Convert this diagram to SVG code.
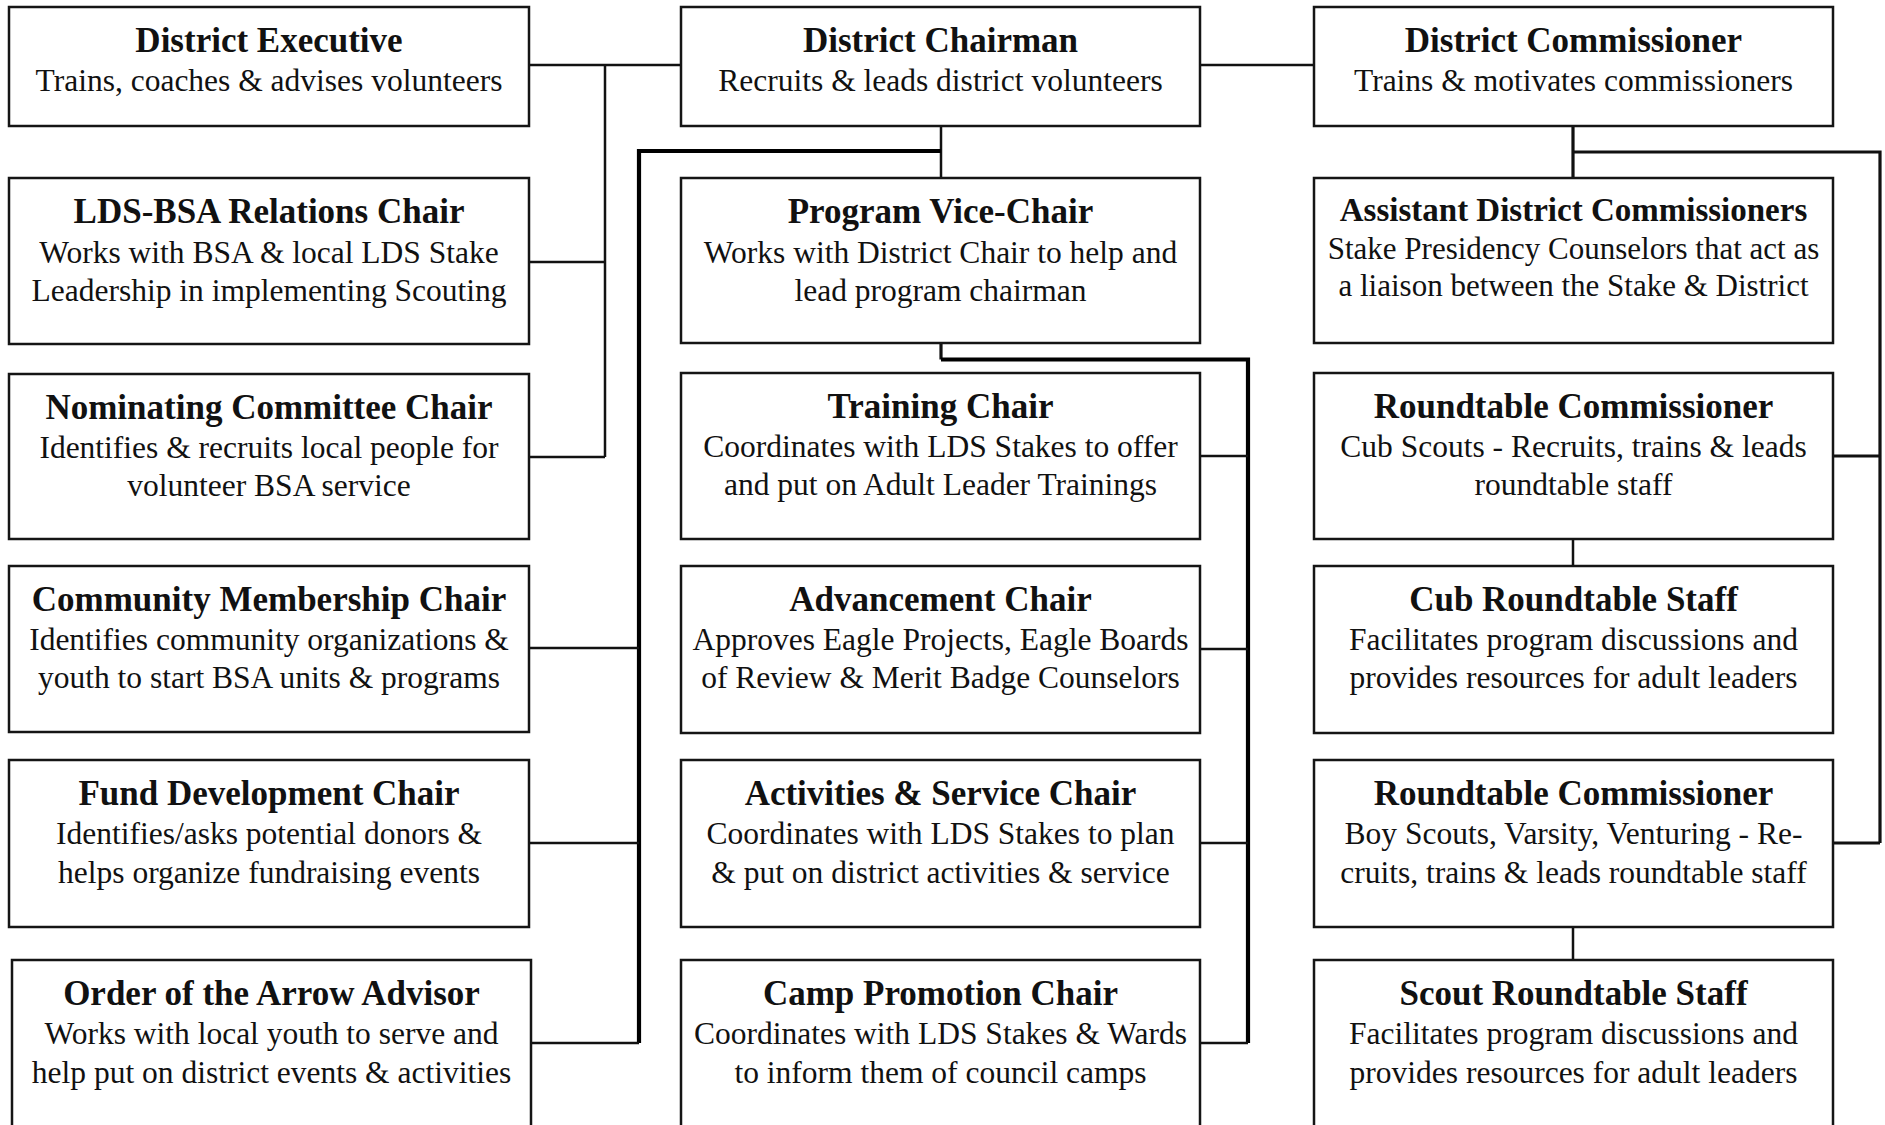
<svg xmlns="http://www.w3.org/2000/svg" width="1885" height="1125" viewBox="0 0 1885 1125">
<style>
.box{fill:#fff;stroke:#151515;stroke-width:2.5}
.t{font-family:"Liberation Serif",serif;font-weight:bold;font-size:35px;text-anchor:middle;fill:#111}
.s{font-family:"Liberation Serif",serif;font-size:31.5px;text-anchor:middle;fill:#111}
.thin{fill:none;stroke:#111;stroke-width:2.5}
.mid{fill:none;stroke:#111;stroke-width:3.2}
.thick{fill:none;stroke:#000;stroke-width:4.2}
</style>
<rect width="1885" height="1125" fill="#fff"/>
<g id="connectors">
<path class="thin" d="M529 65H681M605 65V457M529 262H605M529 457H605M1200 65H1314M941 126V178"/>
<path class="thick" d="M941 151H639V1043"/>
<path class="thin" d="M529 648H639M529 843H639M531 1043H639"/>
<path class="mid" d="M941 343V359.5"/>
<path class="thick" d="M941 359.5H1248V1043"/>
<path class="thin" d="M1200 456H1248M1200 649H1248M1200 843H1248M1200 1043H1248"/>
<path class="mid" d="M1573 126V178M1573 152H1880V843M1833 456H1880M1833 843H1880"/>
<path class="thin" d="M1573 539V566M1573 927V960"/>
</g>
<g id="district-executive"><rect class="box" x="9" y="7" width="520" height="119"/><text class="t" x="269" y="52">District Executive</text><text class="s" x="269" y="91">Trains, coaches &amp; advises volunteers</text></g>
<g id="lds-bsa-relations-chair"><rect class="box" x="9" y="178" width="520" height="166"/><text class="t" x="269" y="223">LDS-BSA Relations Chair</text><text class="s" x="269" y="263">Works with BSA &amp; local LDS Stake</text><text class="s" x="269" y="301">Leadership in implementing Scouting</text></g>
<g id="nominating-committee-chair"><rect class="box" x="9" y="374" width="520" height="165"/><text class="t" x="269" y="419">Nominating Committee Chair</text><text class="s" x="269" y="458">Identifies &amp; recruits local people for</text><text class="s" x="269" y="496">volunteer BSA service</text></g>
<g id="community-membership-chair"><rect class="box" x="9" y="566" width="520" height="166"/><text class="t" x="269" y="611">Community Membership Chair</text><text class="s" x="269" y="650">Identifies community organizations &amp;</text><text class="s" x="269" y="688">youth to start BSA units &amp; programs</text></g>
<g id="fund-development-chair"><rect class="box" x="9" y="760" width="520" height="167"/><text class="t" x="269" y="805">Fund Development Chair</text><text class="s" x="269" y="844">Identifies/asks potential donors &amp;</text><text class="s" x="269" y="883">helps organize fundraising events</text></g>
<g id="order-of-the-arrow-advisor"><rect class="box" x="12" y="960" width="519" height="175"/><text class="t" x="271.5" y="1005">Order of the Arrow Advisor</text><text class="s" x="271.5" y="1044">Works with local youth to serve and</text><text class="s" x="271.5" y="1083">help put on district events &amp; activities</text></g>
<g id="district-chairman"><rect class="box" x="681" y="7" width="519" height="119"/><text class="t" x="940.5" y="52">District Chairman</text><text class="s" x="940.5" y="91">Recruits &amp; leads district volunteers</text></g>
<g id="program-vice-chair"><rect class="box" x="681" y="178" width="519" height="165"/><text class="t" x="940.5" y="223">Program Vice-Chair</text><text class="s" x="940.5" y="263">Works with District Chair to help and</text><text class="s" x="940.5" y="301">lead program chairman</text></g>
<g id="training-chair"><rect class="box" x="681" y="373" width="519" height="166"/><text class="t" x="940.5" y="418">Training Chair</text><text class="s" x="940.5" y="457">Coordinates with LDS Stakes to offer</text><text class="s" x="940.5" y="495">and put on Adult Leader Trainings</text></g>
<g id="advancement-chair"><rect class="box" x="681" y="566" width="519" height="167"/><text class="t" x="940.5" y="611">Advancement Chair</text><text class="s" x="940.5" y="650">Approves Eagle Projects, Eagle Boards</text><text class="s" x="940.5" y="688">of Review &amp; Merit Badge Counselors</text></g>
<g id="activities-service-chair"><rect class="box" x="681" y="760" width="519" height="167"/><text class="t" x="940.5" y="805">Activities &amp; Service Chair</text><text class="s" x="940.5" y="844">Coordinates with LDS Stakes to plan</text><text class="s" x="940.5" y="883">&amp; put on district activities &amp; service</text></g>
<g id="camp-promotion-chair"><rect class="box" x="681" y="960" width="519" height="175"/><text class="t" x="940.5" y="1005">Camp Promotion Chair</text><text class="s" x="940.5" y="1044">Coordinates with LDS Stakes &amp; Wards</text><text class="s" x="940.5" y="1083">to inform them of council camps</text></g>
<g id="district-commissioner"><rect class="box" x="1314" y="7" width="519" height="119"/><text class="t" x="1573.5" y="52">District Commissioner</text><text class="s" x="1573.5" y="91">Trains &amp; motivates commissioners</text></g>
<g id="assistant-district-commissioners"><rect class="box" x="1314" y="178" width="519" height="165"/><text class="t" x="1573.5" y="221" style="font-size:33px">Assistant District Commissioners</text><text class="s" x="1573.5" y="259" style="font-size:31px">Stake Presidency Counselors that act as</text><text class="s" x="1573.5" y="296" style="font-size:31px">a liaison between the Stake &amp; District</text></g>
<g id="roundtable-commissioner-cub"><rect class="box" x="1314" y="373" width="519" height="166"/><text class="t" x="1573.5" y="418">Roundtable Commissioner</text><text class="s" x="1573.5" y="457">Cub Scouts - Recruits, trains &amp; leads</text><text class="s" x="1573.5" y="495">roundtable staff</text></g>
<g id="cub-roundtable-staff"><rect class="box" x="1314" y="566" width="519" height="167"/><text class="t" x="1573.5" y="611">Cub Roundtable Staff</text><text class="s" x="1573.5" y="650">Facilitates program discussions and</text><text class="s" x="1573.5" y="688">provides resources for adult leaders</text></g>
<g id="roundtable-commissioner-boy"><rect class="box" x="1314" y="760" width="519" height="167"/><text class="t" x="1573.5" y="805">Roundtable Commissioner</text><text class="s" x="1573.5" y="844">Boy Scouts, Varsity, Venturing - Re-</text><text class="s" x="1573.5" y="883">cruits, trains &amp; leads roundtable staff</text></g>
<g id="scout-roundtable-staff"><rect class="box" x="1314" y="960" width="519" height="175"/><text class="t" x="1573.5" y="1005">Scout Roundtable Staff</text><text class="s" x="1573.5" y="1044">Facilitates program discussions and</text><text class="s" x="1573.5" y="1083">provides resources for adult leaders</text></g>
</svg>
